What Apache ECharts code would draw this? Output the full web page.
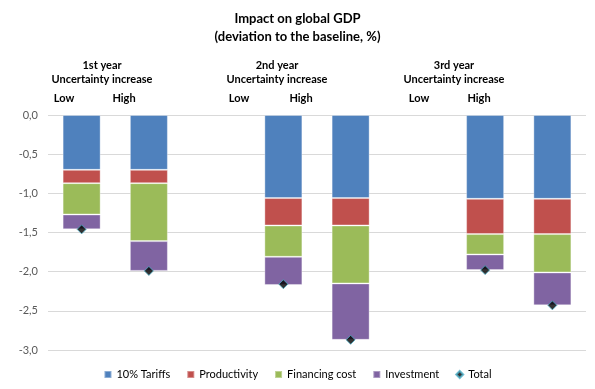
<!DOCTYPE html>
<html><head><meta charset="utf-8">
<script src="https://cdn.jsdelivr.net/npm/echarts@6/dist/echarts.min.js"></script>
<style>html,body{margin:0;padding:0;background:#fff}#c{width:595px;height:389px}</style>
</head><body><div id="c"></div>
<script>
var years = ['1st year', '2nd year', '3rd year'];
var levels = ['Low', 'High'];
var categories = ['Y1 Low', 'Y1 High', '', 'Y2 Low', 'Y2 High', ' ', 'Y3 Low', 'Y3 High'];
var tariffs      = [-0.70, -0.70, null, -1.06, -1.06, null, -1.07, -1.07];
var productivity = [-0.17, -0.17, null, -0.35, -0.35, null, -0.45, -0.45];
var financing    = [-0.40, -0.74, null, -0.40, -0.74, null, -0.26, -0.49];
var investment   = [-0.19, -0.38, null, -0.36, -0.72, null, -0.20, -0.42];
var total        = [-1.46, -1.99, null, -2.16, -2.87, null, -1.98, -2.43];
var yTicks = [0, -0.5, -1, -1.5, -2, -2.5, -3];

var FONT = 'Lato';
var chart = echarts.init(document.getElementById('c'), null, {renderer: 'canvas'});
function bar(name, data, color) {
  return {name: name, type: 'bar', stack: 'gdp', data: data, barWidth: 38,
    itemStyle: {color: color, borderColor: 'rgba(255,255,255,0.35)', borderWidth: 1},
    emphasis: {disabled: true}};
}
var groupCenters = [102, 277, 454];
var levelX = [[64, 124], [239, 301], [419, 479]];
var graphics = [
  {type: 'text', left: 'center', top: 12, style: {text: 'Impact on global GDP', font: 'bold 13px ' + FONT, fill: '#000'}},
  {type: 'text', left: 'center', top: 30, style: {text: '(deviation to the baseline, %)', font: 'bold 13px ' + FONT, fill: '#000'}}
];
years.forEach(function (y, i) {
  graphics.push({type: 'text', x: groupCenters[i], y: 60, style: {text: y, font: 'bold 11px ' + FONT, fill: '#000', align: 'center'}});
  graphics.push({type: 'text', x: groupCenters[i], y: 74, style: {text: 'Uncertainty increase', font: 'bold 11px ' + FONT, fill: '#000', align: 'center'}});
  levels.forEach(function (l, j) {
    graphics.push({type: 'text', x: levelX[i][j], y: 93, style: {text: l, font: 'bold 11px ' + FONT, fill: '#000', align: 'center'}});
  });
});
chart.setOption({
  animation: false,
  textStyle: {fontFamily: FONT},
  grid: {left: 48, right: 9, top: 115, bottom: 39, containLabel: false},
  graphic: graphics,
  legend: {
    bottom: 4, left: 'center', itemWidth: 7, itemHeight: 7, itemGap: 16,
    textStyle: {fontSize: 11, color: '#000', fontFamily: FONT},
    data: [
      {name: '10% Tariffs', icon: 'rect'}, {name: 'Productivity', icon: 'rect'},
      {name: 'Financing cost', icon: 'rect'}, {name: 'Investment', icon: 'rect'},
      {name: 'Total', icon: 'diamond'}
    ]
  },
  xAxis: {type: 'category', data: categories, axisLine: {show: false}, axisTick: {show: false}, axisLabel: {show: false}},
  yAxis: {type: 'value', min: -3, max: 0, interval: 0.5,
    axisLine: {show: false}, axisTick: {show: false},
    splitLine: {lineStyle: {color: '#d9d9d9', width: 1}},
    axisLabel: {color: '#595959', fontSize: 11, margin: 10, fontFamily: FONT,
      formatter: function (v) { return v.toFixed(1).replace('.', ','); }}
  },
  series: [
    bar('10% Tariffs', tariffs, '#4f81bd'),
    bar('Productivity', productivity, '#c0504d'),
    bar('Financing cost', financing, '#9bbb59'),
    bar('Investment', investment, '#8064a2'),
    {name: 'Total', type: 'scatter', data: total, symbol: 'diamond', symbolSize: 9,
      itemStyle: {color: '#000', borderColor: '#4bacc6', borderWidth: 1}, z: 5}
  ]
});
</script></body></html>
